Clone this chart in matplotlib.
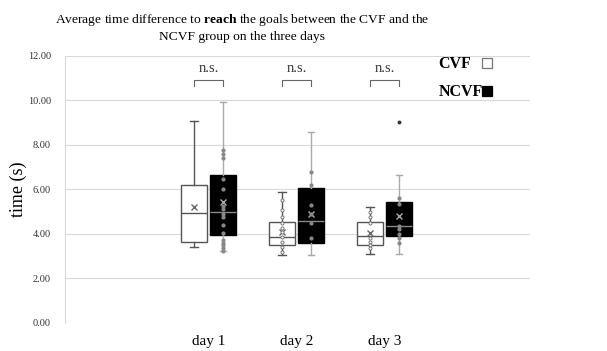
import matplotlib.pyplot as plt
from matplotlib.patches import Rectangle

plt.rcParams['font.family'] = ['Liberation Serif', 'DejaVu Serif']
plt.rcParams['mathtext.fontset'] = 'custom'
plt.rcParams['mathtext.rm'] = 'Liberation Serif'
plt.rcParams['mathtext.bf'] = 'Liberation Serif:bold'

days = ["day 1", "day 2", "day 3"]
groups = ["CVF", "NCVF"]

# box statistics (seconds)
cvf_q1 = [3.64, 3.50, 3.50]
cvf_med = [4.96, 3.88, 3.93]
cvf_q3 = [6.20, 4.55, 4.52]
cvf_lo = [3.40, 3.05, 3.08]
cvf_hi = [9.08, 5.90, 5.23]
cvf_mean = [5.23, 4.08, 4.06]
cvf_out = [[], [], []]

ncvf_q1 = [3.96, 3.61, 3.93]
ncvf_med = [5.00, 4.60, 4.38]
ncvf_q3 = [6.65, 6.08, 5.42]
ncvf_lo = [3.25, 3.05, 3.08]
ncvf_hi = [9.95, 8.57, 6.65]
ncvf_mean = [5.45, 4.88, 4.81]
ncvf_out = [[], [], [9.02]]

# inner points
cvf_pts = [[],
           [5.53, 5.08, 4.78, 4.48, 4.25, 4.08, 3.88, 3.65, 3.43, 3.20],
           [5.00, 4.78, 4.48, 3.81, 3.65, 3.50, 3.36]]
ncvf_pts = [[7.78, 7.60, 7.42, 6.46, 6.02, 5.27, 5.12, 4.90, 4.75, 4.42,
             4.03, 3.73, 3.61, 3.49, 3.37, 3.25],
            [6.80, 6.20, 5.30, 4.90, 4.48, 3.81],
            [5.60, 5.35, 4.38, 4.21, 4.00, 3.81, 3.61]]

fig = plt.figure(figsize=(6.07, 3.51), dpi=100)
ax = fig.add_axes([0.107, 0.0798, 0.766, 0.7607])

pos = [1, 2, 3]
off = 0.165
w = 0.30


def stats(q1, med, q3, lo, hi, mean, out):
    return [dict(q1=q1[i], med=med[i], q3=q3[i], whislo=lo[i], whishi=hi[i],
                 mean=mean[i], fliers=out[i]) for i in range(3)]


ax.bxp(stats(cvf_q1, cvf_med, cvf_q3, cvf_lo, cvf_hi, cvf_mean, cvf_out),
       positions=[p - off for p in pos], widths=w, showmeans=True,
       patch_artist=True,
       boxprops=dict(facecolor='white', edgecolor='#555555', linewidth=1),
       medianprops=dict(color='#555555', linewidth=1),
       whiskerprops=dict(color='#555555', linewidth=1),
       capprops=dict(color='#555555', linewidth=1),
       meanprops=dict(marker='x', markeredgecolor='#666666', markersize=4),
       capwidths=0.10)
ax.bxp(stats(ncvf_q1, ncvf_med, ncvf_q3, ncvf_lo, ncvf_hi, ncvf_mean, ncvf_out),
       positions=[p + off for p in pos], widths=w, showmeans=True,
       patch_artist=True,
       boxprops=dict(facecolor='black', edgecolor='black', linewidth=1),
       medianprops=dict(color='#888888', linewidth=1),
       whiskerprops=dict(color='#aaaaaa', linewidth=1),
       capprops=dict(color='#aaaaaa', linewidth=1),
       meanprops=dict(marker='x', markeredgecolor='#aaaaaa', markersize=4),
       flierprops=dict(marker='o', markersize=1.8, markerfacecolor='#333333',
                       markeredgecolor='#333333'),
       capwidths=0.06)

for i, p in enumerate(pos):
    ax.plot([p - off] * len(cvf_pts[i]), cvf_pts[i], 'o', ms=2.2,
            mfc='white', mec='#777777', mew=0.7, zorder=4)
    ax.plot([p + off] * len(ncvf_pts[i]), ncvf_pts[i], 'o', ms=2.0,
            mfc='#888888', mec='#888888', zorder=4)
    # significance bracket
    ax.plot([p - off, p - off, p + off, p + off], [10.65, 10.93, 10.93, 10.65],
            color='#666666', lw=0.8)
    ax.text(p, 11.15, "n.s.", ha='center', va='bottom', fontsize=10.5,
            color='#333333')

ax.set_xlim(-0.63, 4.65)
ax.set_ylim(0, 12)
ax.set_yticks([0, 2, 4, 6, 8, 10, 12])
ax.set_yticklabels(["%.2f" % v for v in [0, 2, 4, 6, 8, 10, 12]],
                   fontsize=7.5, color='#333333')
ax.set_xticks(pos)
ax.set_xticklabels(days, fontsize=11)
ax.tick_params(axis='y', length=0, pad=10)
ax.tick_params(axis='x', length=0, pad=9)
ax.grid(axis='y', color='#d9d9d9', lw=0.8)
ax.set_axisbelow(True)
for s in ['top', 'right', 'bottom']:
    ax.spines[s].set_visible(False)
ax.spines['left'].set_color('#d9d9d9')
ax.set_ylabel("time (s)", fontsize=13)
ax.yaxis.set_label_coords(-0.082, 0.5)

# legend: text left-aligned, square to its right
leg_y = [0.97, 0.865]
leg_fc = ['white', 'black']
leg_ec = ['#777777', 'black']
for name, yy, fc, ec in zip(groups, leg_y, leg_fc, leg_ec):
    ax.text(0.803, yy, name, transform=ax.transAxes, ha='left', va='center',
            fontsize=11.5, fontweight='bold')
    ax.add_patch(Rectangle((0.897, yy - 0.014), 0.021, 0.038,
                           transform=ax.transAxes, facecolor=fc, edgecolor=ec,
                           lw=0.9, clip_on=False))

fig.text(0.399, 0.965,
         "Average time difference to $\\mathbf{reach}$ the goals between the CVF and the\n"
         "NCVF group on the three days",
         ha='center', va='top', fontsize=9.7, linespacing=1.3)

fig.savefig("out.png", dpi=100)
